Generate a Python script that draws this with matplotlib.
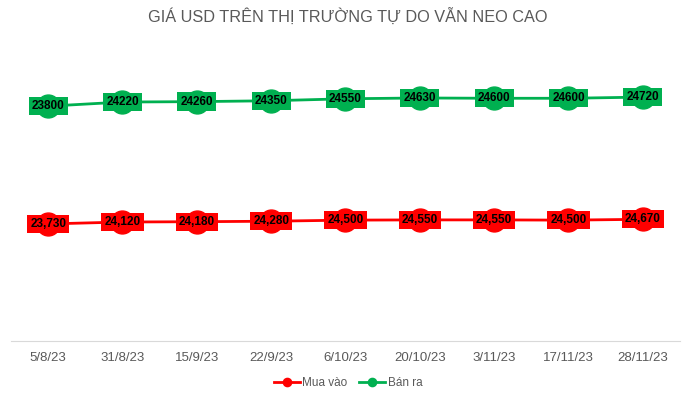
import numpy as np
import matplotlib.pyplot as plt

plt.rcParams['font.family'] = ['Liberation Sans', 'DejaVu Sans']

dates = ['5/8/23', '31/8/23', '15/9/23', '22/9/23', '6/10/23', '20/10/23', '3/11/23', '17/11/23', '28/11/23']
mua_vao = [23730, 24120, 24180, 24280, 24500, 24550, 24550, 24500, 24670]
ban_ra = [23800, 24220, 24260, 24350, 24550, 24630, 24600, 24600, 24720]

red = '#FF0000'
green = '#00B050'
grey = '#595959'

fig = plt.figure(figsize=(6.96, 3.95), dpi=100)
ax = fig.add_axes([11 / 696, 1 - 341 / 395, 669 / 696, 296 / 395])
ax2 = ax.twinx()

x = np.arange(len(dates))
l1, = ax.plot(x, mua_vao, color=red, lw=2, marker='o', ms=16.5, zorder=2, label='Mua vào')
l2, = ax2.plot(x, ban_ra, color=green, lw=2, marker='o', ms=16.5, zorder=2, label='Bán ra')

for xi, v in zip(x, mua_vao):
    ax.text(xi, v, f'{v:,}', ha='center', va='center', fontsize=8.5, fontweight='bold',
            color='black', zorder=10,
            bbox=dict(boxstyle='square,pad=0.27', fc=red, ec='none'))
for xi, v in zip(x, ban_ra):
    ax2.text(xi, v, f'{v}', ha='center', va='center', fontsize=8.5, fontweight='bold',
             color='black', zorder=10,
             bbox=dict(boxstyle='square,pad=0.27', fc=green, ec='none'))

ax.set_ylim(0, 60000)
ax2.set_ylim(0, 30000)
ax.set_xlim(-0.5, len(dates) - 0.5)

for a in (ax, ax2):
    for s in ['top', 'left', 'right']:
        a.spines[s].set_visible(False)
    a.set_yticks([])
    a.spines['bottom'].set_color('#D9D9D9')
ax2.spines['bottom'].set_visible(False)

ax.set_xticks(x)
ax.set_xticklabels(dates, fontsize=9.5, color=grey)
ax.tick_params(axis='x', length=0, pad=8)

fig.text(0.5, 1 - 17 / 395, 'GIÁ USD TRÊN THỊ TRƯỜNG TỰ DO VẪN NEO CAO', ha='center', va='center',
         fontsize=11.7, color=grey)

leg = fig.legend(handles=[l1, l2], loc='center', bbox_to_anchor=(0.5, 1 - 383 / 395), ncol=2,
                 frameon=False, fontsize=8.5, handlelength=2.2, columnspacing=1.0,
                 handletextpad=0.2, markerscale=0.36, labelcolor=grey)

fig.savefig('out.png', dpi=100)
